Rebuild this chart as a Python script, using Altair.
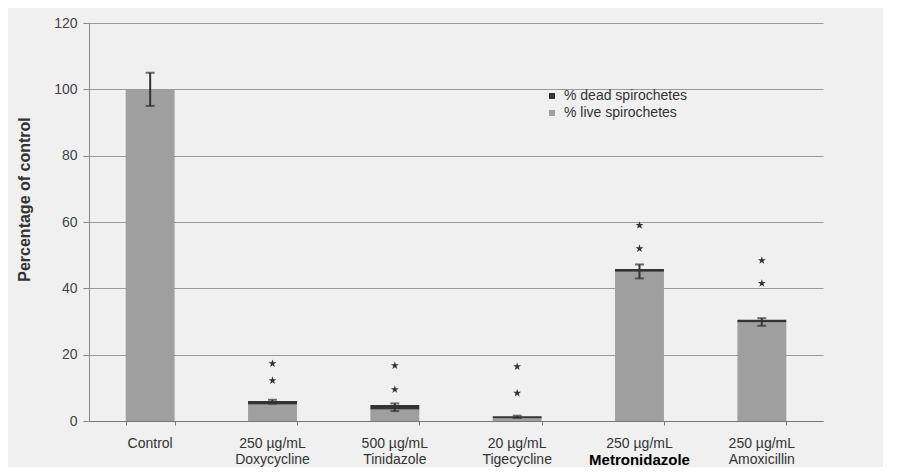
import altair as alt
import pandas as pd

categories = ["Control", "Doxycycline", "Tinidazole", "Tigecycline", "Metronidazole", "Amoxicillin"]
line1 = ["Control", "250 µg/mL", "500 µg/mL", "20 µg/mL", "250 µg/mL", "250 µg/mL"]
line2 = ["", "Doxycycline", "Tinidazole", "Tigecycline", "Metronidazole", "Amoxicillin"]
bold2 = [0, 0, 0, 0, 1, 0]
live = [100, 5.0, 3.5, 0.8, 45.0, 29.8]
dead = [0, 1.0, 1.3, 0.6, 0.8, 0.7]
err_lo = [95, 5.2, 3.0, 0.9, 43.0, 28.7]
err_hi = [105, 6.4, 5.3, 1.6, 47.2, 31.0]
star_lo = [None, 12.2, 9.5, 8.4, 52.0, 41.5]
star_hi = [None, 17.3, 16.7, 16.4, 59.0, 48.4]
series = ["% dead spirochetes", "% live spirochetes"]

bars = pd.DataFrame(
    [{"cat": c, "series": series[1], "val": l, "ord": 0} for c, l in zip(categories, live)]
    + [{"cat": c, "series": series[0], "val": d, "ord": 1} for c, d in zip(categories, dead)]
)
errs = pd.DataFrame({"cat": categories, "lo": err_lo, "hi": err_hi})
labels = pd.DataFrame({"cat": categories, "l1": line1, "l2": line2, "b": bold2})
stars = pd.DataFrame(
    [{"cat": c, "y": v} for c, v in zip(categories, star_lo) if v is not None]
    + [{"cat": c, "y": v} for c, v in zip(categories, star_hi) if v is not None]
)

FONT = "Liberation Sans"
star_path = "M0,-1L0.2245,-0.309L0.9511,-0.309L0.3633,0.118L0.5878,0.809L0,0.382L-0.5878,0.809L-0.3633,0.118L-0.9511,-0.309L-0.2245,-0.309Z"

xenc = alt.X(
    "cat:N",
    sort=categories,
    title=None,
    scale=alt.Scale(paddingInner=0.6, paddingOuter=0.3),
    axis=alt.Axis(labels=False, tickBand="extent", tickSize=4, tickColor="#777",
                  domainColor="#777", grid=False),
)

bar_layer = alt.Chart(bars).mark_bar().encode(
    x=xenc,
    y=alt.Y(
        "val:Q",
        stack="zero",
        scale=alt.Scale(domain=[0, 120], nice=False),
        axis=alt.Axis(values=[0, 20, 40, 60, 80, 100, 120], title="Percentage of control",
                      titleFontSize=16, titleFont=FONT, titleFontWeight="bold", titleColor="#333",
                      titleX=-65, titleY=176, titleAngle=-90, titleAlign="center", titleBaseline="middle",
                      labelFontSize=14, labelFont=FONT, labelColor="#444", labelPadding=6,
                      tickSize=6, tickColor="#888", domainColor="#888",
                      gridColor="#999", gridWidth=1),
    ),
    color=alt.Color(
        "series:N",
        scale=alt.Scale(domain=series, range=["#333333", "#9f9f9f"]),
        legend=alt.Legend(title=None, orient="none", legendX=456, legendY=66,
                          symbolType="square", symbolSize=36, symbolStrokeWidth=0,
                          labelFont=FONT, labelFontSize=14, labelColor="#333",
                          rowPadding=3, labelOffset=5),
    ),
    order=alt.Order("ord:Q"),
)

rule_layer = alt.Chart(errs).mark_rule(color="#333", strokeWidth=2).encode(
    x=alt.X("cat:N", sort=categories), y="lo:Q", y2="hi:Q"
)
cap_lo = alt.Chart(errs).mark_tick(color="#333", thickness=2, size=9, orient="horizontal").encode(
    x=alt.X("cat:N", sort=categories), y="lo:Q"
)
cap_hi = alt.Chart(errs).mark_tick(color="#333", thickness=2, size=9, orient="horizontal").encode(
    x=alt.X("cat:N", sort=categories), y="hi:Q"
)
star_layer = alt.Chart(stars).mark_point(shape=star_path, filled=True, color="#333", size=70, opacity=1).encode(
    x=alt.X("cat:N", sort=categories), y="y:Q"
)
lab1 = alt.Chart(labels).mark_text(font=FONT, fontSize=14, color="#333", baseline="middle").encode(
    x=alt.X("cat:N", sort=categories), y=alt.value(421), text="l1:N"
)
lab2n = alt.Chart(labels).transform_filter("datum.b == 0").mark_text(
    font=FONT, fontSize=14, color="#333", baseline="middle"
).encode(x=alt.X("cat:N", sort=categories), y=alt.value(437), text="l2:N")
lab2b = alt.Chart(labels).transform_filter("datum.b == 1").mark_text(
    font=FONT, fontSize=15, color="#000", fontWeight="bold", baseline="middle"
).encode(x=alt.X("cat:N", sort=categories), y=alt.value(437), text="l2:N")

chart = alt.layer(bar_layer, rule_layer, cap_lo, cap_hi, star_layer, lab1, lab2n, lab2b).properties(
    width=734, height=398,
    padding={"left": 81, "top": 15, "right": 60, "bottom": 46},
    autosize=alt.AutoSizeParams(type="none"),
    background="#f0f0f0",
).configure_view(stroke=None)

chart.save("out.html", embed_options={"renderer": "svg", "actions": False})
